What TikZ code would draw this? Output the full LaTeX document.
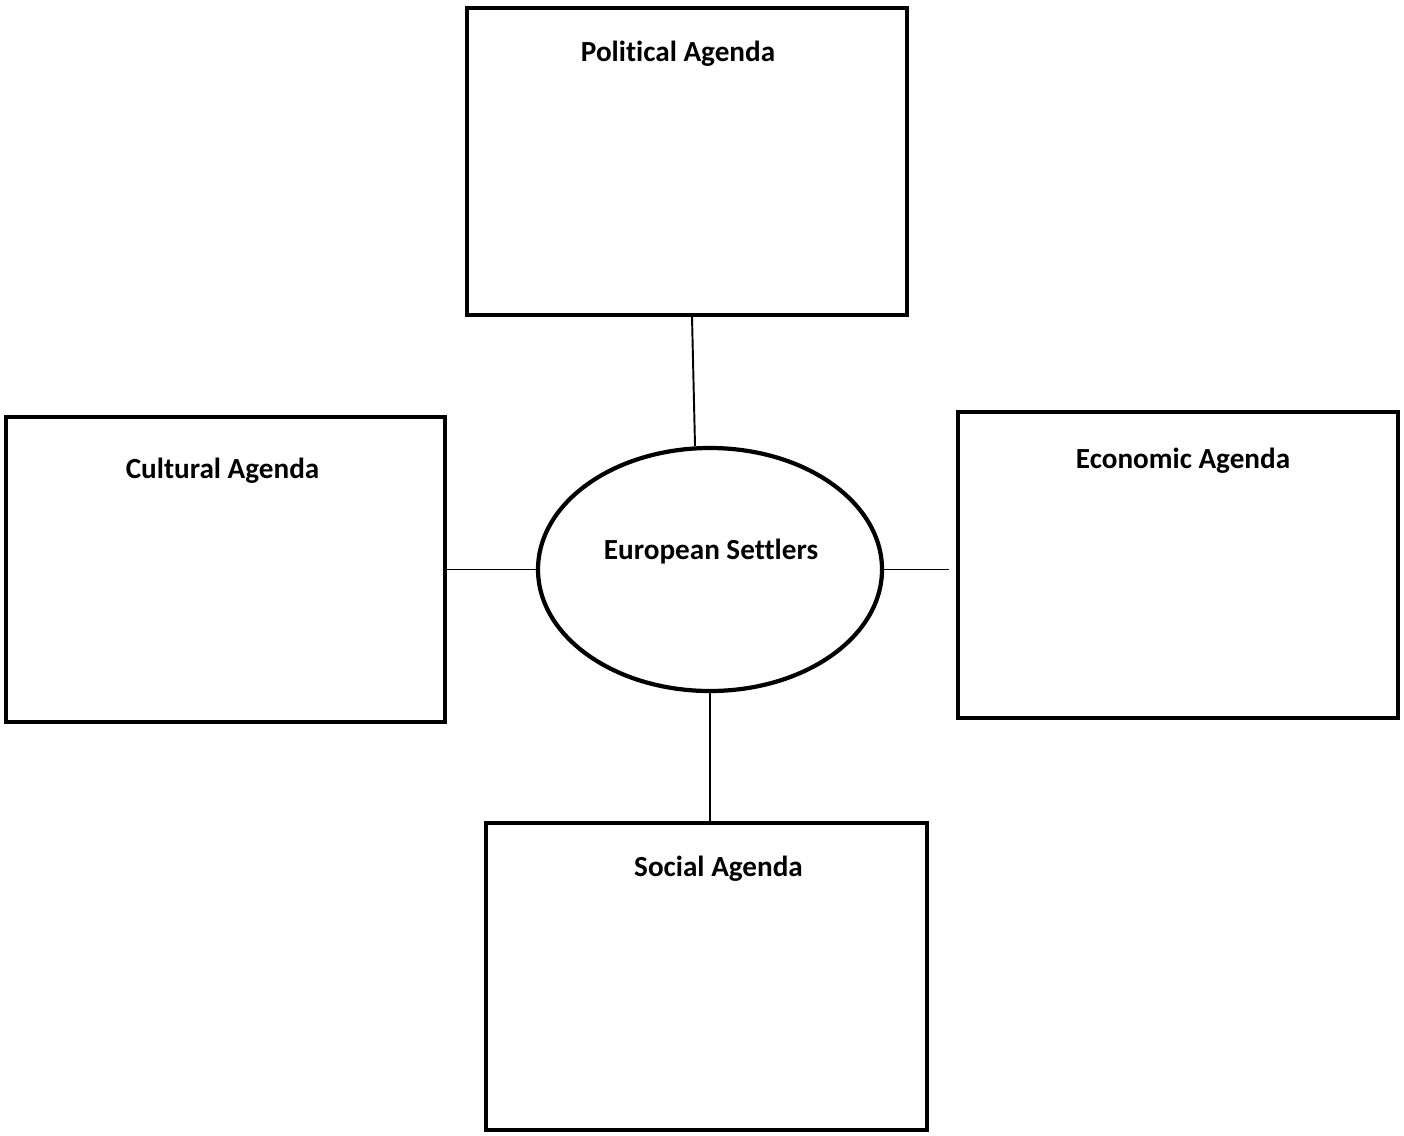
\documentclass[tikz,border=0pt]{standalone}
\usepackage{fontspec}
\setmainfont[Ligatures=CommonOff]{Carlito}
\usetikzlibrary{positioning,shapes.geometric}

\begin{document}
\begin{tikzpicture}[
      agenda/.style={rectangle,draw,line width=1.2pt,minimum width=4.4cm,minimum height=3.07cm,inner sep=0pt},
      hub/.style={ellipse,draw,line width=1.2pt,minimum width=3.44cm,minimum height=2.43cm,inner sep=0pt},
      title/.style={font=\fontsize{8.3}{10}\selectfont\bfseries,inner sep=0pt},
      link/.style={line width=0.55pt}
    ]
      \useasboundingbox (0,0) rectangle (14.04,-11.35);
      \node[hub] (set) at (7.10,-5.695) {};
      \node[agenda] (pol) at (6.87,-1.615) {};
      \node[agenda,minimum width=4.39cm,minimum height=3.05cm] (cul) at (2.255,-5.695) {};
      \node[agenda,minimum height=3.06cm] (eco) at (11.78,-5.65) {};
      \node[agenda,minimum width=4.41cm] (soc) at (7.065,-9.765) {};
      % titles
      \node[title] (setT) at ([shift={(0.01,0.18)}]set.center) {European Settlers};
      \node[title] (polT) at ([shift={(-0.09,-0.48)}]pol.north) {Political Agenda};
      \node[title] (culT) at ([shift={(-0.03,-0.56)}]cul.north) {Cultural Agenda};
      \node[title] (ecoT) at ([shift={(0.05,-0.51)}]eco.north) {Economic Agenda};
      \node[title] (socT) at ([shift={(0.12,-0.48)}]soc.north) {Social Agenda};
      % links
      \draw[link] ([xshift=0.05cm]pol.south) -- ([xshift=-0.15cm]set.north);
      \draw[link] (cul.east |- set.west) -- (set.west);
      \draw[link,shorten >=0.07cm] (set.east) -- (eco.west |- set.east);
      \draw[link] (set.south) -- (set.south |- soc.north);
    \end{tikzpicture}
\end{document}
